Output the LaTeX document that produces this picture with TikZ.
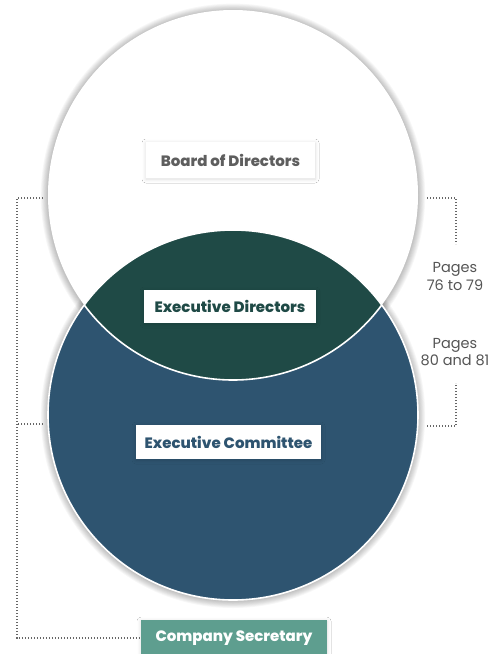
\documentclass[tikz,border=0pt]{standalone}
\usepackage{fontspec}
\setmainfont{Poppins}
\newfontfamily\heavyfont{Poppins}[UprightFont=* ExtraBold]
\usetikzlibrary{shadows.blur}
\definecolor{lensgreen}{HTML}{1F4A46}
\definecolor{comblue}{HTML}{2E5470}
\definecolor{secteal}{HTML}{5E9E8F}
\definecolor{labelgray}{HTML}{5E5E5E}
\definecolor{pagegray}{HTML}{555555}
\definecolor{dotgray}{HTML}{666666}
\begin{document}
\begin{tikzpicture}[x=1pt,y=-1pt,
  labelbox/.style={fill=white, inner sep=0pt, font=\heavyfont\fontsize{15}{17}\selectfont,
    blur shadow={shadow blur steps=16, shadow xshift=0pt, shadow yshift=-1pt, shadow blur radius=4pt, shadow opacity=14}},
  pagenote/.style={text=pagegray, align=center, font=\fontsize{14.5}{17.5}\selectfont, inner sep=0pt},
  bracket/.style={draw=dotgray, line width=1.2pt, dash pattern=on 1.1pt off 1.9pt}]
\useasboundingbox (0,0) rectangle (490,654);
\fill[white] (0,0) rectangle (490,654);

% soft halo behind both circles: stacked translucent discs
\foreach \cy in {195.8,415.8}
  \foreach \k in {1,...,8}
    \fill[black, opacity=0.032] (233,\cy) circle[radius=185+\k*0.9];

% the two overlapping circles
\fill[white] (233,195) circle[radius=185];
\fill[comblue] (233,415) circle[radius=185];
\begin{scope}
  \clip (233,195) circle[radius=185];
  \fill[lensgreen] (233,415) circle[radius=185];
\end{scope}
\draw[white, line width=1.6pt] (233,415) circle[radius=185];
\begin{scope}
  \clip (233,415) circle[radius=185];
  \draw[white, line width=1.6pt] (233,195) circle[radius=185];
\end{scope}

% labels
\node[labelbox, text=labelgray, minimum width=169pt, minimum height=36pt] (board) at (230.5,160) {Board of Directors};
\node[labelbox, text=lensgreen, minimum width=172pt, minimum height=33pt] (execdir) at (230,306.5) {Executive Directors};
\node[labelbox, text=comblue, minimum width=185pt, minimum height=34pt] (execcom) at (228.5,442) {Executive Committee};
\node[labelbox, fill=secteal, text=white, minimum width=186pt, minimum height=36pt, anchor=north] (secy) at (234,620) {\raisebox{1.5pt}{Company Secretary}};

\node[pagenote] (pagesA) at (455,276.5) {Pages\\76 to 79};
\node[pagenote] (pagesB) at (455,352) {Pages\\80 and 81};

% left bracket
\coordinate (lt) at (43,198);
\coordinate (lcorner) at (17,198);
\coordinate (lm) at (43,424);
\coordinate (ljoin) at (17,424);
\coordinate (lbottom) at (17,638);
\draw[bracket] (lt) -- (lcorner) -- (lbottom) -- (secy.west |- lbottom);
\draw[bracket] (lm) -- (ljoin);

% right brackets
\coordinate (rt) at (427,198);
\coordinate (rtc) at (456,198);
\coordinate (rtend) at (456,244);
\coordinate (rb) at (427,426);
\coordinate (rbc) at (456,426);
\coordinate (rbend) at (456,383);
\draw[bracket] (rt) -- (rtc) -- (rtend);
\draw[bracket] (rb) -- (rbc) -- (rbend);
\end{tikzpicture}
\end{document}
